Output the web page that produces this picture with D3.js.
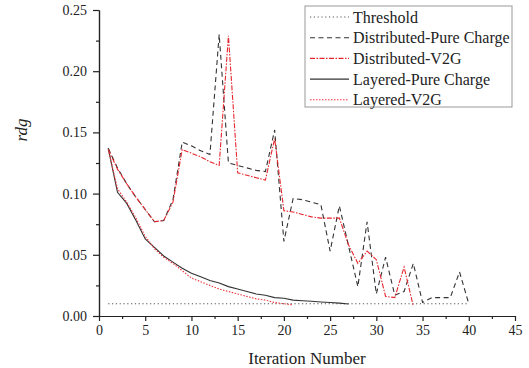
<!DOCTYPE html>
<html>
<head>
<meta charset="utf-8">
<script src="https://cdn.jsdelivr.net/npm/d3@7"></script>
<style>
  body { margin: 0; background: #fff; }
  svg { display: block; }
</style>
</head>
<body>
<svg id="vis"></svg>
<script>
const WIDTH = 529;
const HEIGHT = 368;
const FUENTE = "'Liberation Serif', Tinos, 'Times New Roman', 'Nimbus Roman', 'FreeSerif', 'DejaVu Serif', serif";

// valores (iteracion empieza en 1)
const threshold = 0.01;
const thresholdRange = [1, 40];

const distPure = [0.137, 0.121, 0.108, 0.097, 0.087, 0.077, 0.078, 0.095, 0.142, 0.139,
  0.135, 0.132, 0.230, 0.125, 0.123, 0.121, 0.119, 0.118, 0.152, 0.061,
  0.096, 0.095, 0.093, 0.091, 0.053, 0.090, 0.057, 0.024, 0.077, 0.018,
  0.048, 0.017, 0.020, 0.043, 0.011, 0.015, 0.015, 0.015, 0.036, 0.010];

const distV2G = [0.136, 0.120, 0.108, 0.097, 0.087, 0.077, 0.078, 0.093, 0.136, 0.133,
  0.130, 0.126, 0.123, 0.229, 0.117, 0.115, 0.113, 0.111, 0.145, 0.086,
  0.085, 0.083, 0.081, 0.080, 0.080, 0.080, 0.058, 0.043, 0.053, 0.046,
  0.016, 0.015, 0.040, 0.008];

const layPure = [0.137, 0.101, 0.092, 0.078, 0.063, 0.056, 0.049, 0.044, 0.039, 0.035,
  0.032, 0.029, 0.027, 0.024, 0.022, 0.020, 0.018, 0.017, 0.015, 0.0145,
  0.013, 0.0125, 0.012, 0.0115, 0.011, 0.0105, 0.0098];

const layV2G = [0.136, 0.104, 0.093, 0.080, 0.065, 0.055, 0.048, 0.043, 0.037, 0.031,
  0.028, 0.025, 0.022, 0.020, 0.018, 0.016, 0.014, 0.013, 0.011, 0.010, 0.009];

const xTicks = [0, 5, 10, 15, 20, 25, 30, 35, 40, 45];
const yTicks = [0, 0.05, 0.10, 0.15, 0.20, 0.25];

const svg = d3.select("#vis")
    .attr("width", WIDTH)
    .attr("height", HEIGHT);

const x = d3.scaleLinear().domain([0, 45]).range([99, 515]);
const y = d3.scaleLinear().domain([0, 0.25]).range([316, 10]);

// ejes
const ejeX = d3.axisBottom(x).tickValues(xTicks).tickSize(5).tickSizeOuter(0).tickPadding(4)
    .tickFormat(d3.format("d"));
const ejeXmin = d3.axisBottom(x).tickValues(d3.range(2.5, 45, 5)).tickSize(3).tickSizeOuter(0).tickFormat("");
const ejeY = d3.axisLeft(y).tickValues(yTicks).tickSize(6).tickSizeOuter(0).tickPadding(6)
    .tickFormat(d3.format(".2f"));
const ejeYmin = d3.axisLeft(y).tickValues(d3.range(0.025, 0.25, 0.05)).tickSize(3).tickSizeOuter(0).tickFormat("");

function estilo(g) {
    g.attr("font-family", null);
    g.selectAll("path, line").attr("stroke", "#222").attr("stroke-width", 1.2);
    g.selectAll("text").attr("font-size", 14).attr("fill", "#222").style("font-family", FUENTE);
}

svg.append("g").attr("transform", "translate(0,316)").call(ejeXmin).call(estilo);
svg.append("g").attr("transform", "translate(0,316)").call(ejeX).call(estilo);
svg.append("g").attr("transform", "translate(99,0)").call(ejeYmin).call(estilo);
svg.append("g").attr("transform", "translate(99,0)").call(ejeY).call(estilo);

// titulos
svg.append("text")
    .attr("x", (x.range()[0] + x.range()[1]) / 2)
    .attr("y", 364)
    .attr("text-anchor", "middle")
    .attr("font-size", 17)
    .attr("fill", "#222")
    .style("font-family", FUENTE)
    .text("Iteration Number");

svg.append("text")
    .attr("transform", "translate(27,130) rotate(-90)")
    .attr("text-anchor", "middle")
    .attr("font-size", 17)
    .attr("font-style", "italic")
    .attr("fill", "#222")
    .style("font-family", FUENTE)
    .text("rdg");

// series
const series = [
    { name: "Threshold", values: [threshold, threshold], xs: thresholdRange, color: "#555", dash: "1.2,2.6", width: 1 },
    { name: "Distributed-Pure Charge", values: distPure, color: "#333", dash: "5,3.5", width: 1.1 },
    { name: "Distributed-V2G", values: distV2G, color: "#e8262d", dash: "5,1.5,1.5,1.5", width: 1.1 },
    { name: "Layered-Pure Charge", values: layPure, color: "#333", dash: null, width: 1.1 },
    { name: "Layered-V2G", values: layV2G, color: "#ee3338", dash: "1.5,1.5", width: 1.1 }
];

const line = d3.line().x(d => x(d[0])).y(d => y(d[1]));

const linesG = svg.append("g").attr("id", "lineas");
// orden de dibujo: umbral, capas, distribuidas
[0, 3, 4, 1, 2].forEach(i => {
    const s = series[i];
    const pts = s.xs ? s.xs.map((xv, j) => [xv, s.values[j]]) : s.values.map((v, j) => [j + 1, v]);
    linesG.append("path")
        .datum(pts)
        .attr("d", line)
        .attr("fill", "none")
        .attr("stroke", s.color)
        .attr("stroke-width", s.width)
        .attr("stroke-dasharray", s.dash);
});

// leyenda
const leg = svg.append("g").attr("id", "leyenda");
leg.append("rect")
    .attr("x", 305).attr("y", 6).attr("width", 207).attr("height", 101)
    .attr("fill", "#fff").attr("stroke", "#999").attr("stroke-width", 1);

series.forEach((s, i) => {
    const yy = 17 + i * 20.7;
    leg.append("line")
        .attr("x1", 310).attr("x2", 349).attr("y1", yy).attr("y2", yy)
        .attr("stroke", s.color).attr("stroke-width", s.width)
        .attr("stroke-dasharray", s.dash);
    leg.append("text")
        .attr("x", 353).attr("y", yy).attr("dy", "0.35em")
        .attr("font-size", 16).attr("fill", "#222")
        .style("font-family", FUENTE)
        .text(s.name);
});
</script>
</body>
</html>
